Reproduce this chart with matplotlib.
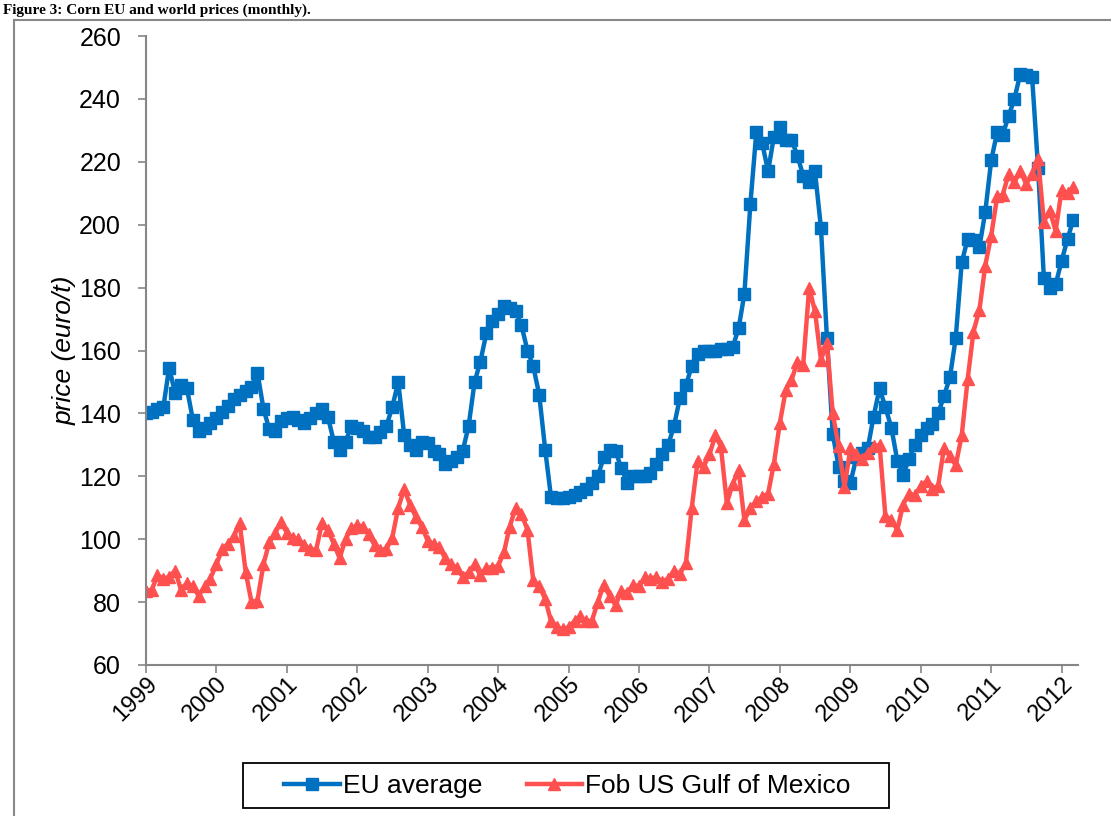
import numpy as np
import pandas as pd
import matplotlib
matplotlib.use("Agg")
import matplotlib.pyplot as plt
import matplotlib.dates as mdates
from matplotlib.lines import Line2D
from matplotlib.patches import Rectangle

# monthly prices, Jan 1999 - Mar 2012 (euro/t)
months = pd.date_range("1999-01-01", periods=159, freq="MS")

eu_average = [
    140, 140.5, 141.5, 142, 154.5, 146.5, 149, 148, 138, 134.5, 135.5, 137,
    138.5, 140.5, 142.5, 144.5, 146, 147, 148.5, 153, 141.5, 135, 134.5, 137.5,
    138.5, 139, 138, 137, 138.5, 140, 141.5, 139, 131, 128.5, 131, 136,
    135.5, 134.5, 132.5, 132.5, 134, 136, 142, 150, 133, 130, 128.5, 131,
    130.5, 128, 127, 124, 125, 126, 128, 136, 150, 156.5, 165.5, 169.5,
    171.5, 174, 173.5, 172.5, 168, 160, 155, 146, 128.5, 113.5, 113, 113,
    113.5, 114, 115, 116, 118, 120, 126, 128.5, 128, 122.5, 118, 120,
    120, 120, 121, 124, 127, 130, 136, 145, 149, 155, 159, 160,
    160, 160, 160.5, 160.5, 161, 167, 178, 206.5, 229.5, 226, 217, 228,
    231, 227, 227, 222, 215.5, 213.5, 217, 199, 164, 133.5, 123, 118.5,
    118, 126, 127.5, 129, 139, 148, 142, 135.5, 125, 120.5, 125.5, 130,
    133, 135.5, 136.5, 140, 145.5, 151.5, 164, 188, 195.5, 195, 193, 204,
    220.5, 229.5, 228.5, 234.5, 240, 248, 247.5, 247, 218, 183, 180, 181,
    188.5, 195.5, 201.5,
]

fob_us_gulf = [
    83.5, 84, 88.5, 87.5, 88, 90, 84, 86, 85, 82, 85, 87.5,
    92, 97, 98.5, 101, 105, 89.5, 80, 80.5, 92, 99, 102, 105.5,
    102, 100.5, 100, 98, 97, 96.5, 105, 103, 98.5, 94, 100, 103.5,
    104.5, 104, 101.5, 98, 96.5, 97, 100.5, 110, 116, 111, 107, 104,
    99.5, 98.5, 97.5, 94, 92, 91, 88, 89.5, 92, 88.5, 91, 91,
    91.5, 96, 104, 110, 108, 103, 87, 85, 81, 74, 72, 71.5,
    72, 74, 75.5, 74, 74, 80, 85.5, 82, 79, 83.5, 83, 85.5,
    85, 88, 87.5, 88, 86.5, 87.5, 90, 89, 92.5, 110, 125, 123,
    127, 133, 129.5, 111.5, 117.5, 122, 106, 110, 112, 113.5, 114.5, 124,
    137, 147.5, 150.5, 156.5, 155.5, 180, 172.5, 157, 162.5, 140, 129.5, 116.5,
    129, 127, 125.5, 127.5, 129.5, 130, 107.5, 106, 103, 111, 114.5, 114,
    117, 118.5, 116, 117, 129, 126.5, 123.5, 133, 151, 166, 173, 187,
    196.5, 209, 209.5, 216, 213.5, 217, 213, 216, 221, 201, 204.5, 198,
    211, 210, 212,
]

series_names = ["EU average", "Fob US Gulf of Mexico"]
yticks = list(range(60, 261, 20))

plt.rcParams["font.family"] = ["Liberation Sans", "DejaVu Sans"]

W, H = 1111, 816
fig = plt.figure(figsize=(W / 100, H / 100), dpi=100)
ax = fig.add_axes([146 / W, 1 - 665 / H, (1078 - 146) / W, (665 - 36) / H])

ax.plot(months, eu_average, color="#0070C0", linewidth=3.2, marker="s",
        markersize=8, label=series_names[0])
ax.plot(months, fob_us_gulf, color="#FF5050", linewidth=3.2, marker="^",
        markersize=9, label=series_names[1])

ax.set_ylim(60, 260)
ax.set_yticks(yticks)
ax.set_xlim(pd.Timestamp("1999-01-01"), pd.Timestamp("2012-03-26"))
ax.xaxis.set_major_locator(mdates.YearLocator())
ax.xaxis.set_major_formatter(mdates.DateFormatter("%Y"))

for s in ["top", "right"]:
    ax.spines[s].set_visible(False)
for s in ["left", "bottom"]:
    ax.spines[s].set_color("#868686")
    ax.spines[s].set_linewidth(1.5)
ax.tick_params(axis="both", colors="#868686", labelcolor="black",
               length=6, width=1.2)
ax.tick_params(axis="y", labelsize=18, pad=12)
ax.tick_params(axis="x", labelsize=17, pad=0)
plt.setp(ax.get_xticklabels(), rotation=45, ha="right", va="top",
         rotation_mode="anchor")

ax.set_ylabel("price (euro/t)", fontsize=19, style="italic", labelpad=2)

# legend entries without frame, box drawn separately like the Excel one
leg = fig.legend(loc="center left", bbox_to_anchor=(266 / W, 1 - 786 / H),
                 ncol=2, fontsize=19, frameon=False, handlelength=2.1,
                 handletextpad=0.1, columnspacing=1.7, borderpad=0.2)
fig.add_artist(Rectangle((243 / W, 1 - 808 / H), (889 - 243) / W, 45 / H,
                         transform=fig.transFigure, fill=False,
                         edgecolor="black", linewidth=1.3))

# chart area border (only left and top edges are visible)
fig.add_artist(Line2D([14 / W, 14 / W], [0, 1 - 20 / H],
                      color="#888888", linewidth=1.5))
fig.add_artist(Line2D([14 / W, 1], [1 - 20 / H, 1 - 20 / H],
                      color="#888888", linewidth=1.5))

# caption above the chart
fig.text(3 / W, 1 - 14 / H, "Figure 3: Corn EU and world prices (monthly).",
         family=["Liberation Serif", "DejaVu Serif"], fontsize=11,
         weight="bold", va="baseline")

fig.savefig("out.png", dpi=100)
